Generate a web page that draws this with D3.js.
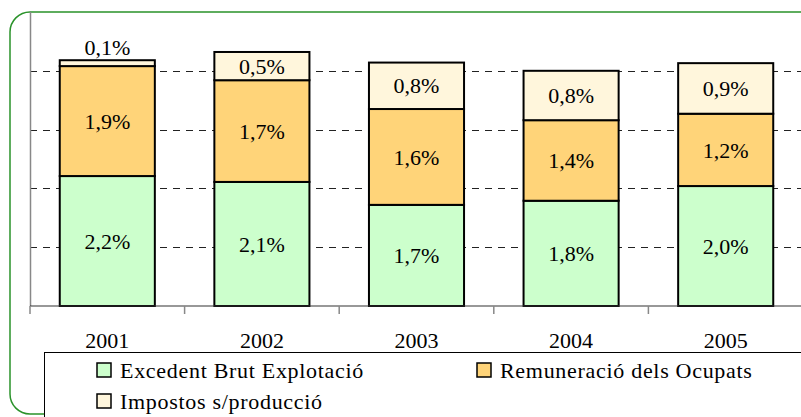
<!DOCTYPE html>
<html lang="ca">
<head>
<meta charset="UTF-8">
<title>Components del VAB</title>
<script src="https://cdnjs.cloudflare.com/ajax/libs/d3/7.8.5/d3.min.js"></script>
<style>
    body { margin: 0; background: #fff; }
    svg { display: block; font-family: "Liberation Serif", "Times New Roman", serif; }
    .bar-label { font-size: 22px; fill: #000; text-anchor: middle; }
    .x-axis text { font-family: "Liberation Serif", "Times New Roman", serif; font-size: 22px; fill: #000; }
    .legend text { font-size: 22px; letter-spacing: 0.7px; }
</style>
</head>
<body>
<div id="chart"></div>
<script>
    const width = 801;
    const height = 417;

    const years = ["2001", "2002", "2003", "2004", "2005"];
    const excedent = [2.21, 2.11, 1.72, 1.79, 2.04];
    const remuneracio = [1.87, 1.73, 1.63, 1.37, 1.23];
    const impostos = [0.10, 0.48, 0.79, 0.84, 0.86];
    const seriesNames = ["Excedent Brut Explotació", "Remuneració dels Ocupats", "Impostos s/producció"];
    const seriesColors = ["#ccffcc", "#ffd479", "#fff6dc"];
    const gridValues = [1, 2, 3, 4];

    const rows = years.map((y, i) => ({
        year: y,
        s0: excedent[i],
        s1: remuneracio[i],
        s2: impostos[i]
    }));

    const svg = d3.select("#chart").append("svg")
        .attr("width", width)
        .attr("height", height);

    // rounded green frame (cropped on the right)
    svg.append("rect")
        .attr("x", 10).attr("y", 12)
        .attr("width", 900).attr("height", 402)
        .attr("rx", 20).attr("ry", 20)
        .attr("fill", "#fff")
        .attr("stroke", "#2a922a")
        .attr("stroke-width", 1.5);

    const x = d3.scaleBand()
        .domain(years)
        .range([30, 803])
        .paddingInner(0.385)
        .paddingOuter(0.1925);

    const y = d3.scaleLinear()
        .domain([0, 5])
        .range([306, 12]);

    // dashed gridlines
    svg.append("g")
        .selectAll("line")
        .data(gridValues)
        .join("line")
        .attr("x1", 30).attr("x2", width)
        .attr("y1", d => Math.round(y(d)) + 0.5)
        .attr("y2", d => Math.round(y(d)) + 0.5)
        .attr("stroke", "#222")
        .attr("stroke-dasharray", "7,6");

    // left axis line
    svg.append("line")
        .attr("x1", 30.5).attr("x2", 30.5)
        .attr("y1", y(5)).attr("y2", y(0))
        .attr("stroke", "#888")
        .attr("stroke-width", 1.5);

    const stack = d3.stack().keys(["s0", "s1", "s2"]);
    const layers = stack(rows);

    const groups = svg.append("g")
        .selectAll("g")
        .data(layers)
        .join("g")
        .attr("fill", (d, i) => seriesColors[i]);

    groups.selectAll("rect")
        .data(d => d)
        .join("rect")
        .attr("x", d => x(d.data.year))
        .attr("width", x.bandwidth())
        .attr("y", d => y(d[1]))
        .attr("height", d => y(d[0]) - y(d[1]))
        .attr("stroke", "#000")
        .attr("stroke-width", 2);

    // value labels
    const fmt = v => v.toFixed(1).replace(".", ",") + "%";
    layers.forEach(layer => {
        svg.append("g")
            .selectAll("text")
            .data(layer)
            .join("text")
            .attr("class", "bar-label")
            .attr("x", d => x(d.data.year) + x.bandwidth() / 2)
            .attr("y", d => {
                const h = y(d[0]) - y(d[1]);
                if (h < 20) return y(d[1]) - 5;
                return (y(d[0]) + y(d[1])) / 2;
            })
            .attr("dy", d => (y(d[0]) - y(d[1]) < 20) ? "0" : "0.35em")
            .text(d => fmt(d[1] - d[0]));
    });

    // x axis
    svg.append("line")
        .attr("x1", 30).attr("x2", width)
        .attr("y1", y(0)).attr("y2", y(0))
        .attr("stroke", "#333")
        .attr("stroke-width", 1.2);

    const boundaries = d3.range(years.length + 1)
        .map(i => x.range()[0] + i * x.step());
    svg.append("g")
        .selectAll("line")
        .data(boundaries)
        .join("line")
        .attr("x1", d => d).attr("x2", d => d)
        .attr("y1", y(0)).attr("y2", y(0) + 8)
        .attr("stroke", "#888")
        .attr("stroke-width", 1.5);

    svg.append("g")
        .attr("class", "x-axis")
        .attr("transform", `translate(0,${y(0)})`)
        .call(d3.axisBottom(x).tickSize(0).tickPadding(26))
        .call(g => g.select(".domain").remove())
        .attr("font-family", null)
        .attr("font-size", null);

    // legend
    const legend = svg.append("g").attr("class", "legend");
    legend.append("rect")
        .attr("x", 44.5).attr("y", 352.5)
        .attr("width", 800).attr("height", 100)
        .attr("fill", "#fff")
        .attr("stroke", "#000");

    const legendPos = [
        { x: 97, y: 363 },
        { x: 477, y: 363 },
        { x: 97, y: 394 }
    ];
    seriesNames.forEach((name, i) => {
        const p = legendPos[i];
        legend.append("rect")
            .attr("x", p.x).attr("y", p.y)
            .attr("width", 14).attr("height", 14)
            .attr("fill", seriesColors[i])
            .attr("stroke", "#000")
            .attr("stroke-width", 1.5);
        legend.append("text")
            .attr("x", p.x + 23)
            .attr("y", p.y + 14.5)
            .text(name);
    });
</script>
</body>
</html>
